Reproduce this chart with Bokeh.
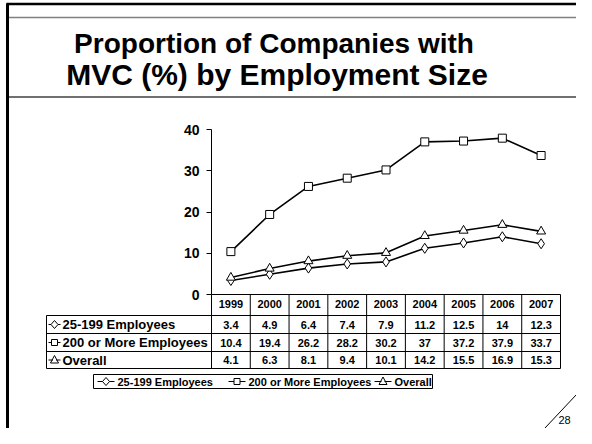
from bokeh.plotting import figure
from bokeh.models import Range1d, FixedTicker, ColumnDataSource
from bokeh.core.properties import value
from bokeh.embed import file_html
from bokeh.resources import INLINE

# ---------------- data ----------------
years = ["1999", "2000", "2001", "2002", "2003", "2004", "2005", "2006", "2007"]
emp_25_199 = [3.4, 4.9, 6.4, 7.4, 7.9, 11.2, 12.5, 14, 12.3]
emp_200_plus = [10.4, 19.4, 26.2, 28.2, 30.2, 37, 37.2, 37.9, 33.7]
overall = [4.1, 6.3, 8.1, 9.4, 10.1, 14.2, 15.5, 16.9, 15.3]
series_names = ["25-199 Employees", "200 or More Employees", "Overall"]
series_markers = ["diamond", "square", "triangle"]
y_ticks = [0, 10, 20, 30, 40]
title_lines = ["Proportion of Companies with", "MVC (%) by Employment Size"]
page_number = "28"

FONT = "Liberation Sans"
W, H = 576, 428

# plot frame (page pixels)
FL, FR, FT, FB = 211, 560, 129, 294

ncol = len(years)
xpos = list(range(ncol))  # category slots for the years

p = figure(width=W, height=H, output_backend="svg", toolbar_location=None,
           x_range=Range1d(-0.5, ncol - 0.5), y_range=Range1d(0, 40),
           min_border_left=FL, min_border_right=W - FR,
           min_border_top=FT, min_border_bottom=H - FB)
p.outline_line_color = None
p.grid.visible = False
p.background_fill_color = "white"
p.border_fill_color = "white"

# pixel coordinate system for decorations outside the frame
p.extra_x_ranges = {"px": Range1d(FL, FR)}
p.extra_y_ranges = {"py": Range1d(FB, FT)}

# y axis
ya = p.yaxis[0]
ya.ticker = FixedTicker(ticks=y_ticks)
ya.minor_tick_line_color = None
ya.major_tick_in = 0
ya.major_tick_out = 5
ya.major_tick_line_color = "black"
ya.axis_line_color = "black"
ya.major_label_standoff = 7
ya.major_label_text_font = FONT
ya.major_label_text_font_size = "14px"
ya.major_label_text_font_style = "bold"
ya.major_label_text_color = "black"

# x axis: year labels form the header row of the data table
xa = p.xaxis[0]
xa.ticker = FixedTicker(ticks=xpos)
xa.major_label_overrides = {i: y for i, y in zip(xpos, years)}
xa.major_tick_line_color = None
xa.major_tick_in = 0
xa.major_tick_out = 0
xa.minor_tick_line_color = None
xa.axis_line_color = "black"
xa.major_label_standoff = 5
xa.major_label_text_font = FONT
xa.major_label_text_font_size = "11px"
xa.major_label_text_font_style = "bold"
xa.major_label_text_color = "black"

# ---------------- series ----------------
src = ColumnDataSource(dict(x=xpos, s0=emp_25_199, s1=emp_200_plus, s2=overall))
for col in ["s0", "s1", "s2"]:
    p.line("x", col, source=src, line_color="black", line_width=1.6)
marker_sizes = {"diamond": 10, "square": 8, "triangle": 9}
for col, mk in zip(["s0", "s1", "s2"], series_markers):
    p.scatter("x", col, source=src, marker=mk, size=marker_sizes[mk],
              fill_color="white", line_color="black", line_width=1)

OV = dict(x_range_name="px", y_range_name="py", level="overlay")
LINE = dict(line_color="black", line_width=1)


def key_outline(mk, cx, cy):
    if mk == "diamond":
        pts, hw = [(cx, cy - 4), (cx + 3.5, cy), (cx, cy + 4), (cx - 3.5, cy)], 3.5
    elif mk == "square":
        pts, hw = [(cx - 3, cy - 3), (cx + 3, cy - 3), (cx + 3, cy + 3), (cx - 3, cy + 3)], 3
    else:
        pts, hw = [(cx, cy - 4.5), (cx + 4, cy + 3), (cx - 4, cy + 3)], 1.5
    return pts, hw


def draw_key(mk, x0, x1, cy):
    cx = (x0 + x1) / 2
    pts, hw = key_outline(mk, cx, cy)
    sx0 = [x0, cx + hw]
    sx1 = [cx - hw, x1]
    sy = [cy, cy]
    n = len(pts)
    sx0 += [pts[i][0] for i in range(n)]
    sx1 += [pts[(i + 1) % n][0] for i in range(n)]
    y0 = sy + [pts[i][1] for i in range(n)]
    y1 = sy + [pts[(i + 1) % n][1] for i in range(n)]
    p.segment(x0=sx0, y0=y0, x1=sx1, y1=y1, **LINE, **OV)


# ---------------- data table ----------------
row_edges = [315, 333, 351, 368]
row_centers = [324, 342, 359.5]
LABEL_LEFT = 46
bounds = [FL + i * (FR - FL) / ncol for i in range(ncol + 1)]
p.segment(x0=bounds, y0=[FB] * len(bounds), x1=bounds, y1=[row_edges[-1]] * len(bounds), **LINE, **OV)
p.segment(x0=[LABEL_LEFT], y0=[row_edges[0]], x1=[LABEL_LEFT], y1=[row_edges[-1]], **LINE, **OV)
p.segment(x0=[LABEL_LEFT] * len(row_edges), y0=row_edges, x1=[FR] * len(row_edges), y1=row_edges, **LINE, **OV)

series_values = [emp_25_199, emp_200_plus, overall]
for name, mk, vals, yc in zip(series_names, series_markers, series_values, row_centers):
    p.text(x=xpos, y=[yc] * ncol, text=[f"{v:g}" for v in vals],
           y_range_name="py", level="overlay",
           text_align="center", text_baseline="middle", text_color="black",
           text_font=value(FONT), text_font_style="bold", text_font_size=value("11px"))
    draw_key(mk, 48, 60, yc)
    p.text(x=[62], y=[yc], text=[name], text_align="left", text_baseline="middle",
           text_color="black", text_font=value(FONT), text_font_style="bold",
           text_font_size=value("13px"), **OV)

# ---------------- legend ----------------
p.quad(left=[93], right=[432], top=[374], bottom=[388], fill_color="white",
       line_color="black", line_width=1, **OV)
leg_y = 381
leg_keys = [97, 228, 374]
for name, mk, kx in zip(series_names, series_markers, leg_keys):
    draw_key(mk, kx, kx + 17, leg_y)
    p.text(x=[kx + 20], y=[leg_y], text=[name], text_align="left", text_baseline="middle",
           text_color="black", text_font=value(FONT), text_font_style="bold",
           text_font_size=value("11px"), **OV)

# ---------------- title & slide frame ----------------
p.text(x=[273.5], y=[43], text=[title_lines[0]], text_align="center",
       text_baseline="alphabetic", text_color="black", text_font=value(FONT),
       text_font_style="bold", text_font_size=value("28px"), **OV)
p.text(x=[276.5], y=[74], text=[title_lines[1]], text_align="center",
       text_baseline="alphabetic", text_color="black", text_font=value(FONT),
       text_font_style="bold", text_font_size=value("30px"), **OV)

p.segment(x0=[6], y0=[3.5], x1=[600], y1=[3.5], line_color="black", line_width=2.5, **OV)
p.segment(x0=[7], y0=[17], x1=[600], y1=[17], line_color="#808080", line_width=1.5, **OV)
p.segment(x0=[7], y0=[96.5], x1=[600], y1=[96.5], line_color="#404040", line_width=1.5, **OV)
p.segment(x0=[7], y0=[3], x1=[7], y1=[450], line_color="black", line_width=3, **OV)
p.segment(x0=[592], y0=[377], x1=[529], y1=[444], line_color="black", line_width=1, **OV)
p.text(x=[564], y=[419], text=[page_number], text_align="center", text_baseline="middle",
       text_color="black", text_font=value(FONT), text_font_size=value("11px"), **OV)

open("out.html", "w").write(file_html(p, INLINE))
